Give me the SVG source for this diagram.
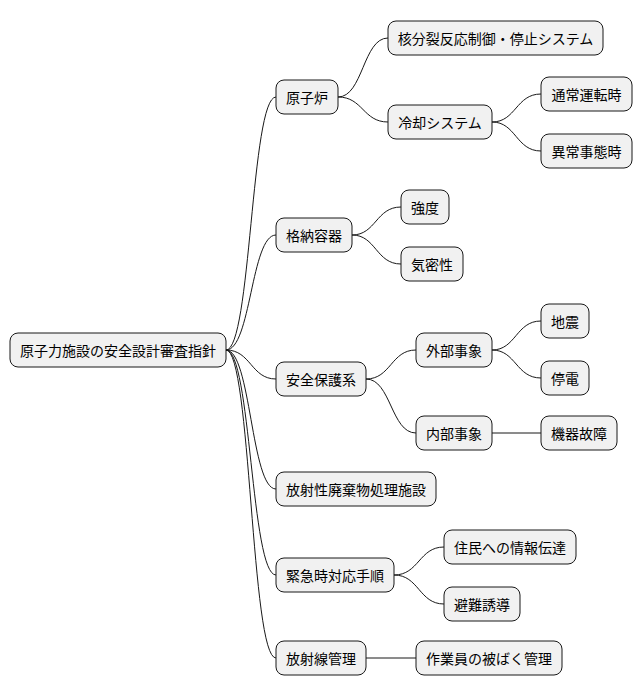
<svg xmlns="http://www.w3.org/2000/svg" width="642" height="696" viewBox="0 0 642 696">
<style>
.n rect{fill:#F1F1F1;stroke:#181818;stroke-width:1}
.n text{font-family:"Noto Sans CJK JP","Noto Sans CJK SC",sans-serif;font-size:14px;fill:#000;text-anchor:middle;dominant-baseline:central}
#c path{fill:none;stroke:#181818;stroke-width:1}
</style>
<rect width="642" height="696" fill="#fff"/>
<g id="c">
<path d="M226 350 C251 350 251 97 276 97"/>
<path d="M226 350 C251 350 251 235 276 235"/>
<path d="M226 350 C251 350 251 379 276 379"/>
<path d="M226 350 C251 350 251 489 276 489"/>
<path d="M226 350 C251 350 251 575 276 575"/>
<path d="M226 350 C251 350 251 658 276 658"/>
<path d="M338 97 C363 97 363 38 388 38"/>
<path d="M338 97 C363 97 363 122 388 122"/>
<path d="M492 122 C516 122 516 94 541 94"/>
<path d="M492 122 C516 122 516 151 541 151"/>
<path d="M352 235 C376 235 376 207 401 207"/>
<path d="M352 235 C376 235 376 264 401 264"/>
<path d="M366 379 C391 379 391 350 416 350"/>
<path d="M366 379 C391 379 391 433 416 433"/>
<path d="M492 350 C516 350 516 321 541 321"/>
<path d="M492 350 C516 350 516 378 541 378"/>
<path d="M492 433 L541 433"/>
<path d="M394 575 C419 575 419 547 444 547"/>
<path d="M394 575 C419 575 419 604 444 604"/>
<path d="M366 658 L416 658"/>
</g>
<g id="root" class="n"><rect x="10" y="333" width="216" height="34" rx="8"/><text x="118" y="350">原子力施設の安全設計審査指針</text></g>
<g id="n1" class="n"><rect x="276" y="80" width="62" height="34" rx="8"/><text x="307" y="97">原子炉</text></g>
<g id="n2" class="n"><rect x="388" y="21" width="215" height="34" rx="8"/><text x="495.5" y="38">核分裂反応制御・停止システム</text></g>
<g id="n3" class="n"><rect x="388" y="105" width="104" height="34" rx="8"/><text x="440" y="122">冷却システム</text></g>
<g id="n4" class="n"><rect x="541" y="77" width="91" height="34" rx="8"/><text x="586.5" y="94">通常運転時</text></g>
<g id="n5" class="n"><rect x="541" y="134" width="91" height="34" rx="8"/><text x="586.5" y="151">異常事態時</text></g>
<g id="n6" class="n"><rect x="276" y="218" width="76" height="34" rx="8"/><text x="314" y="235">格納容器</text></g>
<g id="n7" class="n"><rect x="401" y="190" width="48" height="34" rx="8"/><text x="425" y="207">強度</text></g>
<g id="n8" class="n"><rect x="401" y="247" width="62" height="34" rx="8"/><text x="432" y="264">気密性</text></g>
<g id="n9" class="n"><rect x="276" y="362" width="90" height="34" rx="8"/><text x="321" y="379">安全保護系</text></g>
<g id="n10" class="n"><rect x="416" y="333" width="76" height="34" rx="8"/><text x="454" y="350">外部事象</text></g>
<g id="n11" class="n"><rect x="541" y="304" width="48" height="34" rx="8"/><text x="565" y="321">地震</text></g>
<g id="n12" class="n"><rect x="541" y="361" width="48" height="34" rx="8"/><text x="565" y="378">停電</text></g>
<g id="n13" class="n"><rect x="416" y="416" width="76" height="34" rx="8"/><text x="454" y="433">内部事象</text></g>
<g id="n14" class="n"><rect x="541" y="416" width="76" height="34" rx="8"/><text x="579" y="433">機器故障</text></g>
<g id="n15" class="n"><rect x="276" y="472" width="160" height="34" rx="8"/><text x="356" y="489">放射性廃棄物処理施設</text></g>
<g id="n16" class="n"><rect x="276" y="558" width="118" height="34" rx="8"/><text x="335" y="575">緊急時対応手順</text></g>
<g id="n17" class="n"><rect x="444" y="530" width="132" height="34" rx="8"/><text x="510" y="547">住民への情報伝達</text></g>
<g id="n18" class="n"><rect x="444" y="587" width="76" height="34" rx="8"/><text x="482" y="604">避難誘導</text></g>
<g id="n19" class="n"><rect x="276" y="641" width="90" height="34" rx="8"/><text x="321" y="658">放射線管理</text></g>
<g id="n20" class="n"><rect x="416" y="641" width="146" height="34" rx="8"/><text x="489" y="658">作業員の被ばく管理</text></g>
</svg>
